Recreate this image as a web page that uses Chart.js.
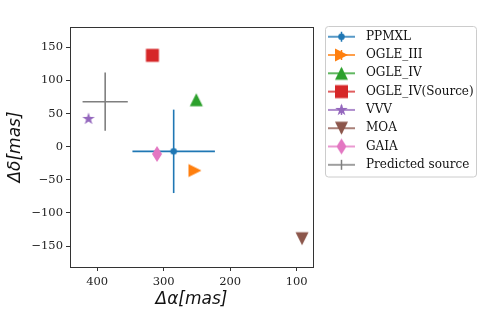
<!DOCTYPE html>
<html>
<head>
<meta charset="utf-8">
<script src="https://cdn.jsdelivr.net/npm/chart.js@4/dist/chart.umd.min.js"></script>
<style>
html,body{margin:0;padding:0;background:#fff;}
#wrap{width:491px;height:328px;position:relative;}
</style>
</head>
<body>
<div id="wrap"><canvas id="c" width="491" height="328"></canvas></div>
<script>
// ---- data ----
const names = ['PPMXL', 'OGLE_III', 'OGLE_IV', 'OGLE_IV(Source)', 'VVV', 'MOA', 'GAIA', 'Predicted source'];
const dAlpha = [285, 253, 251, 317, 413, 92, 310, 388];
const dDelta = [-7, -36, 71, 138, 42, -139, -11, 68];
const errAlpha = [62, 0, 0, 0, 0, 0, 0, 34];
const errDelta = [63, 0, 0, 0, 0, 0, 0, 44];
const xTicks = [100, 200, 300, 400];
const yTicks = [-150, -100, -50, 0, 50, 100, 150];

// ---- styles ----
const colors = ['#1f77b4', '#ff7f0e', '#2ca02c', '#d62728', '#9467bd', '#8c564b', '#e377c2', '#7f7f7f'];
const shapes = ['circle', 'triRight', 'triUp', 'square', 'star', 'triDown', 'thinDiamond', 'none'];

function drawShape(ctx, shape, cx, cy, color) {
  ctx.fillStyle = color;
  ctx.beginPath();
  if (shape === 'circle') {
    ctx.arc(cx, cy, 3.3, 0, Math.PI * 2);
  } else if (shape === 'square') {
    const s = 13;
    ctx.rect(cx - s / 2, cy - s / 2, s, s);
  } else if (shape === 'triUp') {
    const s = 13;
    ctx.moveTo(cx, cy - s / 2); ctx.lineTo(cx - s / 2, cy + s / 2); ctx.lineTo(cx + s / 2, cy + s / 2);
  } else if (shape === 'triDown') {
    const s = 13;
    ctx.moveTo(cx, cy + s / 2); ctx.lineTo(cx - s / 2, cy - s / 2); ctx.lineTo(cx + s / 2, cy - s / 2);
  } else if (shape === 'triRight') {
    const s = 13;
    ctx.moveTo(cx + s / 2, cy); ctx.lineTo(cx - s / 2, cy - s / 2); ctx.lineTo(cx - s / 2, cy + s / 2);
  } else if (shape === 'star') {
    const R = 6.6, r = R * 0.381966;
    for (let k = 0; k < 10; k++) {
      const rad = (k % 2 === 0) ? R : r;
      const a = -Math.PI / 2 + k * Math.PI / 5;
      const px = cx + rad * Math.cos(a), py = cy + rad * Math.sin(a);
      if (k === 0) ctx.moveTo(px, py); else ctx.lineTo(px, py);
    }
  } else if (shape === 'thinDiamond') {
    const h = 16, w = 10;
    ctx.moveTo(cx, cy - h / 2); ctx.lineTo(cx + w / 2, cy); ctx.lineTo(cx, cy + h / 2); ctx.lineTo(cx - w / 2, cy);
  } else {
    return;
  }
  ctx.closePath();
  ctx.fill();
}

function markerCanvas(shape, color) {
  const cv = document.createElement('canvas');
  cv.width = 20; cv.height = 20;
  drawShape(cv.getContext('2d'), shape, 10, 10, color);
  return cv;
}

function legendCanvas(shape, color) {
  const cv = document.createElement('canvas');
  cv.width = 32; cv.height = 20;
  const ctx = cv.getContext('2d');
  ctx.strokeStyle = color; ctx.lineWidth = 1.5;
  ctx.beginPath(); ctx.moveTo(0, 10); ctx.lineTo(27, 10); ctx.stroke();
  ctx.beginPath(); ctx.moveTo(13.5, 5); ctx.lineTo(13.5, 15); ctx.stroke();
  drawShape(ctx, shape, 13.5, 10, color);
  return cv;
}

const datasets = [];
names.forEach((n, i) => {
  datasets.push({
    label: n,
    data: [{x: dAlpha[i], y: dDelta[i]}],
    pointStyle: markerCanvas(shapes[i], colors[i]),
    pointRadius: shapes[i] === 'none' ? 0 : 7,
    backgroundColor: colors[i],
    borderColor: colors[i],
    order: 0,
    isMain: true,
    legendImg: legendCanvas(shapes[i], colors[i])
  });
});
names.forEach((n, i) => {
  if (errAlpha[i] > 0) {
    datasets.push({
      label: n + ' xerr',
      data: [{x: dAlpha[i] - errAlpha[i], y: dDelta[i]}, {x: dAlpha[i] + errAlpha[i], y: dDelta[i]}],
      showLine: true, pointRadius: 0, borderColor: colors[i], borderWidth: 1.6, order: 1
    });
  }
  if (errDelta[i] > 0) {
    datasets.push({
      label: n + ' yerr',
      data: [{x: dAlpha[i], y: dDelta[i] - errDelta[i]}, {x: dAlpha[i], y: dDelta[i] + errDelta[i]}],
      showLine: true, pointRadius: 0, borderColor: colors[i], borderWidth: 1.6, order: 1
    });
  }
});

const frame = {
  id: 'frame',
  beforeDraw(chart) {
    const lg = chart.legend;
    if (lg) {
      const w = lg.width, h = lg.height;
      lg.left = 328 - 6.3; lg.top = 24.4;
      lg.right = lg.left + w; lg.bottom = lg.top + h;
    }
    const ctx = chart.ctx;
    ctx.save();
    ctx.fillStyle = '#fff';
    ctx.strokeStyle = '#cccccc';
    ctx.lineWidth = 1;
    const x0 = 325.5, y0 = 26.5, x1 = 476.5, y1 = 177;
    const r = 3;
    ctx.beginPath();
    ctx.moveTo(x0 + r, y0); ctx.lineTo(x1 - r, y0); ctx.quadraticCurveTo(x1, y0, x1, y0 + r);
    ctx.lineTo(x1, y1 - r); ctx.quadraticCurveTo(x1, y1, x1 - r, y1);
    ctx.lineTo(x0 + r, y1); ctx.quadraticCurveTo(x0, y1, x0, y1 - r);
    ctx.lineTo(x0, y0 + r); ctx.quadraticCurveTo(x0, y0, x0 + r, y0);
    ctx.closePath(); ctx.fill(); ctx.stroke();
    ctx.restore();
  },
  afterDraw(chart) {
    const a = chart.chartArea, ctx = chart.ctx;
    ctx.save();
    ctx.strokeStyle = '#333';
    ctx.lineWidth = 1;
    ctx.strokeRect(Math.round(a.left) + 0.5, Math.round(a.top) + 0.5,
      Math.round(a.right) - Math.round(a.left), Math.round(a.bottom) - Math.round(a.top));
    ctx.restore();
  }
};

const tickFont = {family: 'DejaVu Serif', size: 11.5};
const titleFont = {family: 'DejaVu Sans', size: 17, style: 'italic'};
const fmt = v => (v < 0 ? '\u2212' + Math.abs(v) : String(v));

new Chart(document.getElementById('c'), {
  type: 'scatter',
  data: {datasets},
  plugins: [frame],
  options: {
    responsive: false,
    animation: false,
    events: [],
    layout: {padding: {left: 1, top: 27, right: 178, bottom: 14}},
    plugins: {
      tooltip: {enabled: false},
      legend: {
        position: 'chartArea',
        align: 'start',
        labels: {
          usePointStyle: true,
          pointStyleWidth: 32,
          padding: 6.3,
          color: '#111',
          font: {family: 'DejaVu Serif', size: 12},
          generateLabels(chart) {
            return chart.data.datasets.map((d, i) => ({d, i})).filter(o => o.d.isMain).map(o => ({
              text: o.d.label,
              pointStyle: o.d.legendImg,
              fillStyle: 'rgba(0,0,0,0)',
              strokeStyle: 'rgba(0,0,0,0)',
              lineWidth: 0,
              fontColor: '#111',
              hidden: false,
              datasetIndex: o.i
            }));
          }
        }
      }
    },
    scales: {
      x: {
        type: 'linear',
        reverse: true,
        min: 75.5, max: 440.9,
        afterBuildTicks: s => { s.ticks = xTicks.map(v => ({value: v})); },
        afterFit: s => { s.height = 47; },
        ticks: {font: tickFont, color: '#222', padding: 4, callback: fmt, maxRotation: 0},
        grid: {drawOnChartArea: false, drawTicks: true, tickLength: 4, color: '#333'},
        border: {display: false},
        title: {display: true, text: '\u0394\u03b1[mas]', font: titleFont, color: '#111', padding: {top: 4, bottom: 4}}
      },
      y: {
        type: 'linear',
        min: -181.7, max: 180.8,
        afterBuildTicks: s => { s.ticks = yTicks.map(v => ({value: v})); },
        afterFit: s => { s.width = 69; },
        ticks: {font: tickFont, color: '#222', padding: 3, callback: fmt},
        grid: {drawOnChartArea: false, drawTicks: true, tickLength: 4, color: '#333'},
        border: {display: false},
        title: {display: true, text: '\u0394\u03b4[mas]', font: titleFont, color: '#111', padding: {top: 4, bottom: 4}}
      }
    }
  }
});
</script>
</body>
</html>
